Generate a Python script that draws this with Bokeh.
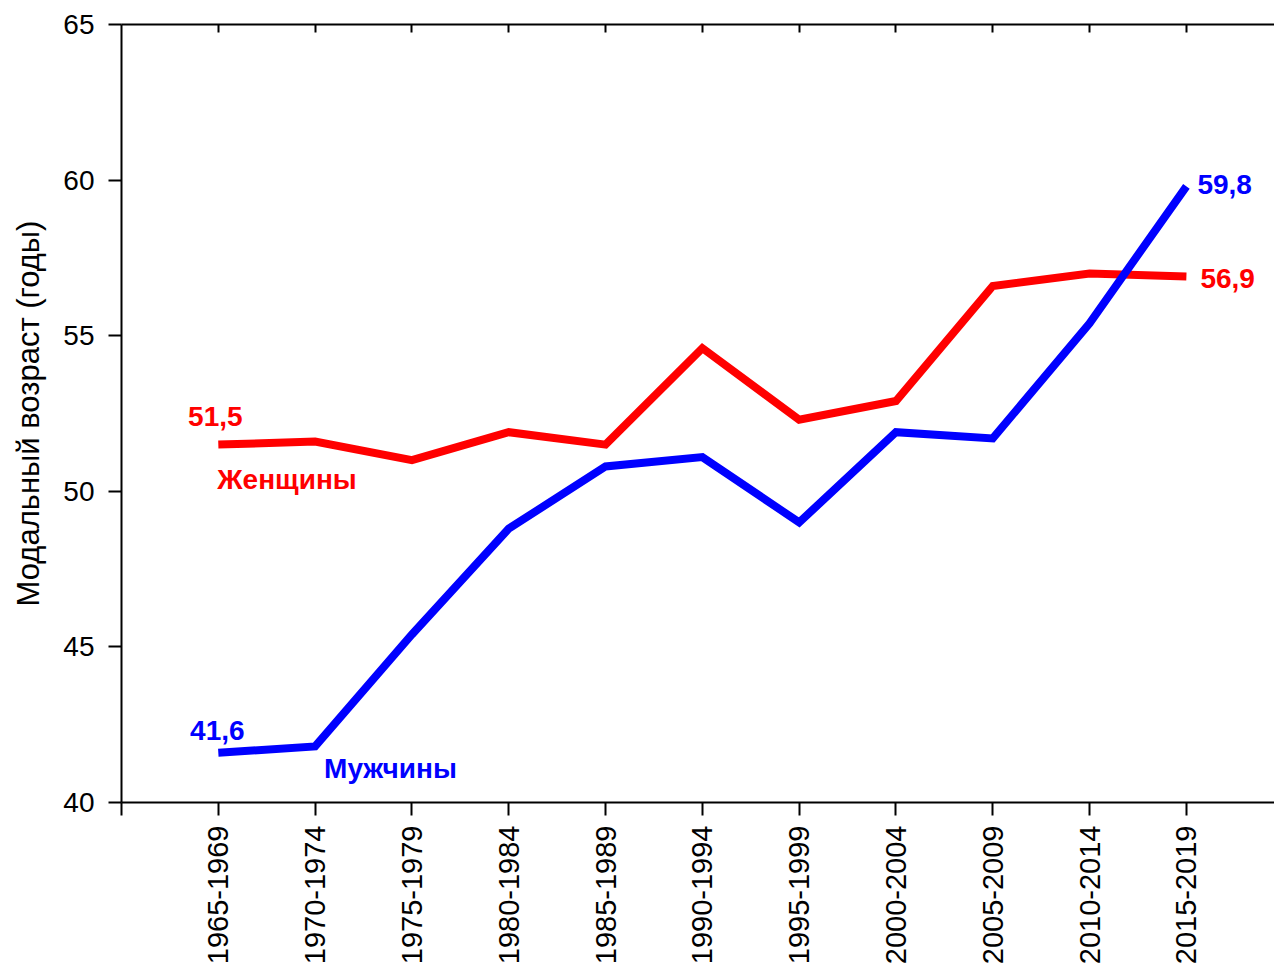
import math
from bokeh.plotting import figure
from bokeh.models import FixedTicker, LinearAxis, Range1d, Label
from bokeh.embed import file_html
from bokeh.resources import INLINE

periods = ["1965-1969", "1970-1974", "1975-1979", "1980-1984", "1985-1989",
           "1990-1994", "1995-1999", "2000-2004", "2005-2009", "2010-2014", "2015-2019"]
women = [51.5, 51.6, 51.0, 51.9, 51.5, 54.6, 52.3, 52.9, 56.6, 57.0, 56.9]
men = [41.6, 41.8, 45.4, 48.8, 50.8, 51.1, 49.0, 51.9, 51.7, 55.4, 59.8]
y_ticks = [40, 45, 50, 55, 60, 65]
y_title = "Модальный возраст (годы)"
women_name = "Женщины"
men_name = "Мужчины"

RED = "#FF0000"
BLUE = "#0000FF"
FONT = "Liberation Sans"

xs = list(range(1, len(periods) + 1))

p = figure(width=1274, height=967, output_backend="svg", toolbar_location=None,
           x_range=Range1d(0, 11.91), y_range=Range1d(40, 65),
           min_border_left=121, min_border_right=0, min_border_top=24, min_border_bottom=165)
p.outline_line_color = None
p.grid.visible = False
p.background_fill_color = "white"
p.border_fill_color = "white"

# bottom axis
xa = p.xaxis[0]
xa.ticker = FixedTicker(ticks=[0] + xs)
xa.major_label_overrides = {0: ""} | {x: lab for x, lab in zip(xs, periods)}
xa.major_label_orientation = math.pi / 2
xa.major_tick_in = 0
xa.major_tick_out = 13
xa.minor_tick_line_color = None
xa.axis_line_width = 2
xa.major_tick_line_width = 2
xa.axis_line_color = "black"
xa.major_label_text_font = FONT
xa.major_label_text_font_size = "29px"
xa.major_label_text_color = "black"
xa.major_label_standoff = 10

# left axis
ya = p.yaxis[0]
ya.ticker = FixedTicker(ticks=y_ticks)
ya.major_tick_in = 0
ya.major_tick_out = 13
ya.minor_tick_line_color = None
ya.axis_line_width = 2
ya.major_tick_line_width = 2
ya.major_label_text_font = FONT
ya.major_label_text_font_size = "28px"
ya.major_label_text_color = "black"
ya.major_label_standoff = 14
ya.axis_label = y_title
ya.axis_label_text_font = FONT
ya.axis_label_text_font_size = "31px"
ya.axis_label_text_font_style = "normal"
ya.axis_label_text_color = "black"
ya.axis_label_standoff = 14

# top axis (ticks inward, no labels)
ta = LinearAxis(ticker=FixedTicker(ticks=xs), major_tick_in=8, major_tick_out=0,
                minor_tick_line_color=None, axis_line_width=2, major_tick_line_width=2,
                major_label_text_font_size="0px", major_label_standoff=0)
p.add_layout(ta, "above")

p.line(xs, women, line_color=RED, line_width=8, line_join="miter")
p.line(xs, men, line_color=BLUE, line_width=8, line_join="miter")

def fmt(v):
    return f"{v:.1f}".replace(".", ",")

labels = [
    (fmt(women[0]), xs[0], women[0], -3, 28, "center", RED),
    (fmt(men[0]), xs[0], men[0], -1, 22, "center", BLUE),
    (fmt(men[-1]), xs[-1], men[-1], 11, 2, "left", BLUE),
    (fmt(women[-1]), xs[-1], women[-1], 14, -2, "left", RED),
    (women_name, xs[0], women[0], -1, -35, "left", RED),
    (men_name, xs[1], men[1], 9, -22, "left", BLUE),
]
for txt, x, y, dx, dy, align, col in labels:
    p.add_layout(Label(x=x, y=y, x_offset=dx, y_offset=dy, text=txt,
                       text_align=align, text_baseline="middle",
                       text_font=FONT, text_font_size="28px", text_font_style="bold",
                       text_color=col))

open("out.html", "w").write(file_html(p, INLINE))
